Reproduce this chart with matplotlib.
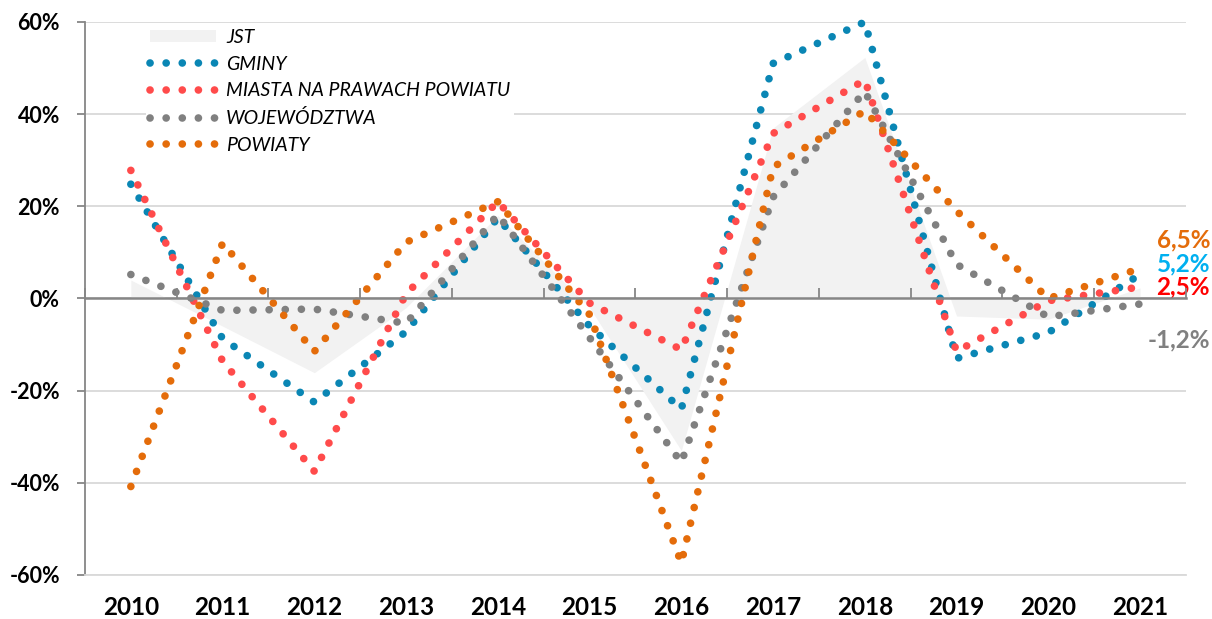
import numpy as np
import matplotlib
matplotlib.use('Agg')
import matplotlib.pyplot as plt
from matplotlib.lines import Line2D
from matplotlib.patches import Patch
from matplotlib.transforms import blended_transform_factory

plt.rcParams['font.family'] = ['Lato', 'DejaVu Sans']

years = list(range(2010, 2022))
jst = [4.0, -6.0, -16.1, -2.0, 18.0, -2.0, -33.0, 37.0, 52.3, -3.8, -4.5, 2.3]
gminy = [24.8, -8.7, -22.5, -7.2, 17.5, -6.0, -24.0, 51.0, 60.0, -13.0, -7.4, 5.2]
miasta = [27.8, -13.6, -37.5, 1.0, 21.0, -1.0, -11.1, 35.8, 47.4, -11.5, -0.5, 2.5]
woj = [5.2, -2.6, -2.3, -5.4, 18.2, -8.5, -35.6, 22.0, 44.9, 7.4, -4.0, -1.2]
powiaty = [-40.8, 12.0, -11.5, 12.2, 21.0, -3.5, -57.4, 28.5, 40.7, 19.0, 0.0, 6.5]

names = ['GMINY', 'MIASTA NA PRAWACH POWIATU', 'WOJEWÓDZTWA', 'POWIATY']
series = [gminy, miasta, woj, powiaty]
colors = ['#0A86B4', '#FF4B4B', '#808080', '#E46C0A']
label_colors = ['#00B0F0', '#FF0000', '#808080', '#E46C0A']
label_y = [7.6, 2.6, -9.0, 12.6]   # where the end labels sit (shifted apart)

fig = plt.figure(figsize=(12.12, 6.19), dpi=100)
ax = fig.add_axes([0.0701, 0.0711, 0.9084, 0.8934])

ax.fill_between(years, jst, 0, color='#F2F2F2', lw=0, zorder=1)

dots = (0, (0.01, 2.1))
for vals, c in zip(series, colors):
    ax.plot(years, vals, color=c, lw=5.5, linestyle=dots,
            dash_capstyle='round', zorder=3, clip_on=False)

ax.set_xlim(2009.5, 2021.5)
ax.set_ylim(-60, 60)
yt = np.arange(-60, 61, 20)
ax.set_yticks(yt)
ax.set_yticklabels([f"{v}%" for v in yt], fontweight='bold', fontsize=15.5)
ax.grid(axis='y', color='#D9D9D9', lw=1.3, zorder=0)
ax.set_axisbelow(True)

ax.set_xticks(years)
ax.set_xticklabels([str(y) for y in years], fontweight='bold', fontsize=17.5)
ax.tick_params(axis='x', length=0, pad=15)
ax.tick_params(axis='y', length=6, width=1.3, color='#868686', pad=12)

for s in ['top', 'right']:
    ax.spines[s].set_visible(False)
ax.spines['bottom'].set_color('#D9D9D9')
ax.spines['bottom'].set_linewidth(1.3)
ax.spines['left'].set_color('#868686')
ax.spines['left'].set_linewidth(1.3)

# zero line with category-boundary ticks
zero = ax.secondary_xaxis(0.5)
zero.set_xticks(np.arange(2009.5, 2022, 1))
zero.tick_params(length=7, width=1.3, color='#868686', labelbottom=False,
                 labeltop=False, direction='out')
for sp in zero.spines.values():
    sp.set_color('#868686')
    sp.set_linewidth(1.8)
zero.set_zorder(4)

# end labels
trans = blended_transform_factory(fig.transFigure, ax.transData)
for vals, c, ly in zip(series, label_colors, label_y):
    ax.text(1210 / 1212, ly, f"{vals[-1]:.1f}%".replace('.', ','),
            transform=trans, ha='right', va='center', color=c,
            fontweight='bold', fontsize=17.5)

handles = [Patch(facecolor='#F2F2F2', edgecolor='none', label='JST')]
for n, c in zip(names, colors):
    handles.append(Line2D([], [], color=c, lw=5.5, linestyle=dots,
                          dash_capstyle='round', label=n))
leg = ax.legend(handles=handles, loc='upper left', bbox_to_anchor=(0.047, 1.012),
                frameon=True, framealpha=1, edgecolor='none', fancybox=False,
                prop={'style': 'italic', 'size': 14}, handlelength=3.4,
                handleheight=0.6, labelspacing=0.5, handletextpad=0.5,
                borderpad=0.2)
leg.set_zorder(5)

fig.savefig('out.png', dpi=100)
